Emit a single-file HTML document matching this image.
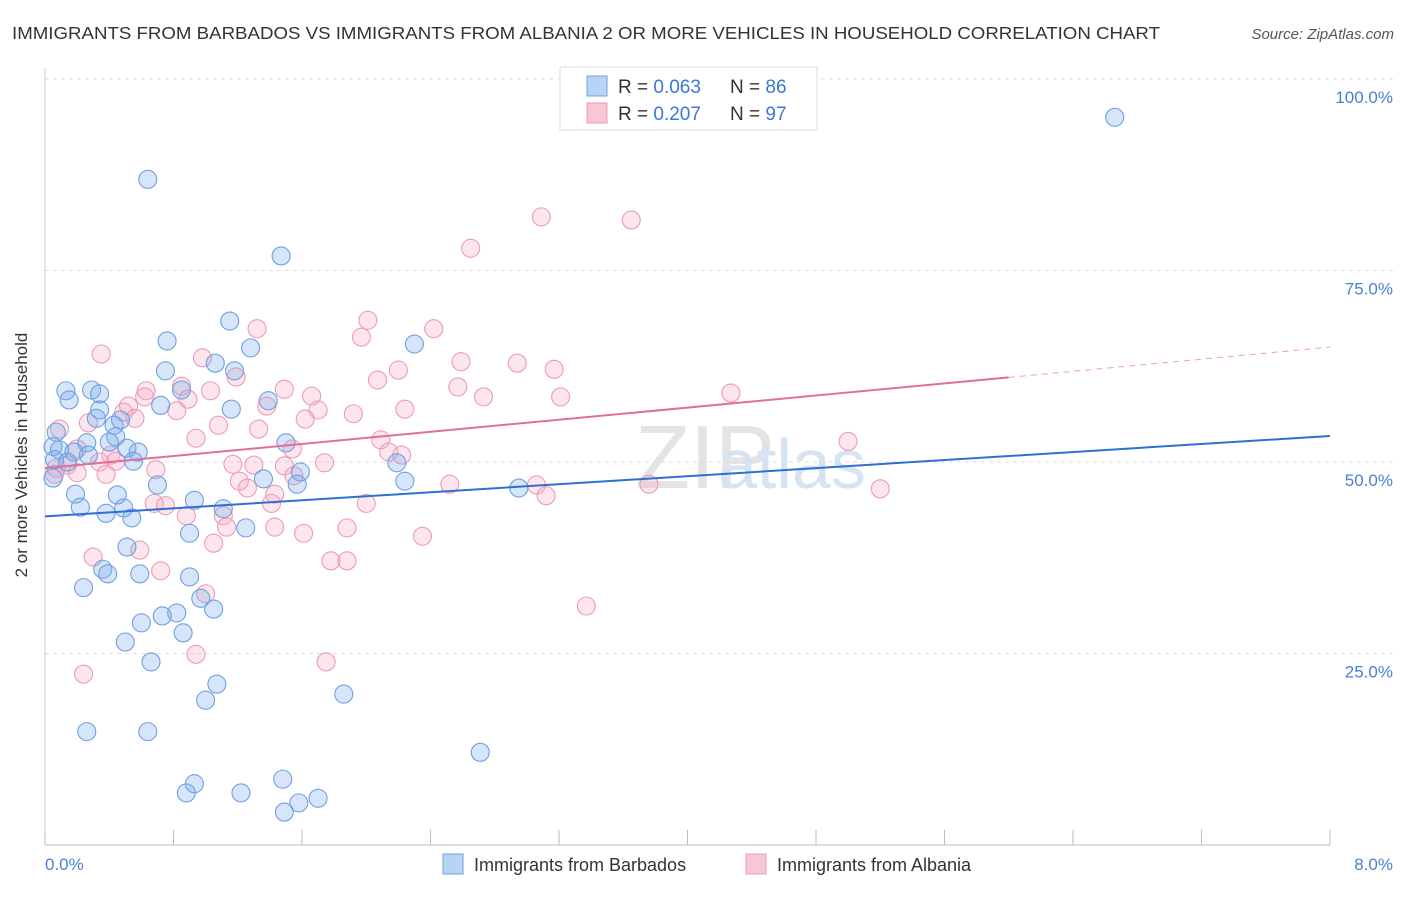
<!DOCTYPE html>
<html><head><meta charset="utf-8"><style>
body{margin:0;background:#fff;font-family:"Liberation Sans",sans-serif;}
svg text{font-family:"Liberation Sans",sans-serif;}
</style></head><body>
<svg id="c" width="1406" height="892">
<text x="12" y="39" font-size="17.5" fill="#333" textLength="1148" lengthAdjust="spacingAndGlyphs">IMMIGRANTS FROM BARBADOS VS IMMIGRANTS FROM ALBANIA 2 OR MORE VEHICLES IN HOUSEHOLD CORRELATION CHART</text>
<text x="1394" y="39" font-size="15" fill="#555" font-style="italic" text-anchor="end">Source: ZipAtlas.com</text>
<text x="635" y="488" font-size="90" fill="#e4e4e4" font-family="Liberation Serif">ZIP</text>
<text x="718" y="488" font-size="70" fill="#d5e3f3">atlas</text>
<g id="grid"></g><g id="axes"></g><g id="pts"></g><g id="lines"></g>
<text x="27" y="455" font-size="17" fill="#333" text-anchor="middle" transform="rotate(-90 27 455)">2 or more Vehicles in Household</text>
<text x="45" y="870" font-size="17" fill="#4a7fd4">0.0%</text>
<text x="1393" y="870" font-size="17" fill="#4a7fd4" text-anchor="end">8.0%</text>
<g>
<rect x="560" y="67" width="257" height="63" fill="#fff" stroke="#ddd"/>
<rect x="587" y="76" width="20" height="20" fill="#b9d3f5" stroke="#6fa0e0"/>
<rect x="587" y="103" width="20" height="20" fill="#f9c6d6" stroke="#ec9bb8"/>
<text x="618" y="93" font-size="19" fill="#333">R = <tspan fill="#3a78d8">0.063</tspan></text>
<text x="730" y="93" font-size="19" fill="#333">N = <tspan fill="#3a78d8">86</tspan></text>
<text x="618" y="120" font-size="19" fill="#333">R = <tspan fill="#3a78d8">0.207</tspan></text>
<text x="730" y="120" font-size="19" fill="#333">N = <tspan fill="#3a78d8">97</tspan></text>
</g>
<g>
<rect x="443" y="854" width="20" height="20" fill="#b9d3f5" stroke="#6fa0e0"/>
<text x="474" y="871" font-size="18" fill="#333">Immigrants from Barbados</text>
<rect x="746" y="854" width="20" height="20" fill="#f9c6d6" stroke="#ec9bb8"/>
<text x="777" y="871" font-size="18" fill="#333">Immigrants from Albania</text>
</g>
</svg>
<script>
const yTicks=[25,50,75,100];
const blueX=[6.66,0.64,1.47,1.15,0.76,1.28,2.30,1.06,0.75,1.18,0.13,0.29,0.34,0.15,0.85,1.39,0.72,0.34,1.16,0.32,0.47,0.43,0.44,0.07,0.26,0.40,0.51,0.58,1.50,0.05,0.09,0.18,0.27,0.06,0.14,0.55,2.19,1.59,0.05,1.36,2.24,1.57,0.70,2.95,0.19,0.45,0.93,0.22,0.49,1.11,0.38,0.54,1.25,0.90,0.51,0.36,0.39,0.59,0.90,0.24,0.97,1.05,0.82,0.73,0.60,0.86,0.50,0.66,1.07,1.86,1.00,0.26,0.64,2.71,0.93,1.48,0.88,1.22,1.70,1.58,1.49];
const blueY=[95.0,86.9,76.9,68.4,65.8,64.9,65.4,62.9,61.9,61.9,59.3,59.4,58.9,58.1,59.4,58.0,57.4,56.8,56.9,55.7,55.5,54.8,53.3,53.9,52.5,52.6,51.8,51.3,52.5,52.0,51.6,51.3,50.9,50.3,50.0,50.1,49.9,48.7,47.9,47.8,47.5,47.1,47.0,46.6,45.8,45.7,45.0,44.1,44.0,43.9,43.3,42.7,41.4,40.7,38.9,36.0,35.4,35.4,35.0,33.6,32.2,30.8,30.3,29.9,29.0,27.7,26.5,23.9,21.0,19.7,18.9,14.8,14.8,12.1,8.0,8.6,6.8,6.8,6.1,5.5,4.3];
const pinkX=[3.09,3.65,2.65,2.01,1.32,2.42,1.97,0.35,0.98,2.59,2.94,3.17,2.20,1.19,2.07,0.85,2.57,0.63,1.03,1.49,4.27,1.66,3.21,2.73,0.62,0.89,0.52,1.38,1.70,2.24,1.92,0.82,0.49,0.56,1.62,0.27,1.08,0.09,1.33,0.94,2.09,5.00,1.54,2.22,2.14,0.20,0.41,0.34,0.44,1.17,1.30,1.74,0.14,1.49,0.07,0.69,0.20,0.38,0.06,1.55,1.21,3.76,2.52,3.06,1.26,5.20,1.43,3.12,0.68,2.00,0.75,1.41,0.88,1.11,1.13,1.43,1.88,1.61,2.35,1.05,0.59,0.30,1.78,1.88,0.72,1.00,3.37,0.94,1.75,0.24];
const pinkY=[82.0,81.6,77.9,68.5,67.4,67.4,66.3,64.1,63.6,63.1,62.9,62.1,62.0,61.1,60.7,59.9,59.8,59.3,59.3,59.5,59.0,58.6,58.5,58.5,58.5,58.2,57.3,57.3,56.8,56.9,56.3,56.7,56.5,55.7,55.6,55.1,54.8,54.3,54.3,53.1,52.9,52.7,51.7,50.9,51.3,51.7,50.9,50.0,50.1,49.7,49.6,49.9,49.6,49.5,49.2,49.0,48.6,48.4,48.4,48.2,47.5,47.1,47.1,47.0,46.6,46.5,45.8,45.6,44.6,44.6,44.3,44.6,43.0,43.0,41.5,41.5,41.4,40.7,40.3,39.4,38.5,37.6,37.1,37.1,35.8,32.8,31.2,24.9,23.9,22.3];
const blueTrend=[42.9,53.4];
const pinkTrend=[49.2,65.0];
const pinkSolidEnd=6.0;
const X0=45,X1=1330,Y0=845,YPER=766/100;
const sx=v=>X0+(v/8)*(X1-X0);
const sy=v=>Y0-v*YPER;
const NS="http://www.w3.org/2000/svg";
function mk(tag,attrs,parent){const e=document.createElementNS(NS,tag);for(const k in attrs)e.setAttribute(k,attrs[k]);document.getElementById(parent).appendChild(e);return e;}
yTicks.forEach(t=>{
const l=mk('line',{x1:45,x2:1393,y1:sy(t),y2:sy(t),stroke:'#ddd','stroke-dasharray':'4,4'},'grid');


const tx=mk('text',{x:1393,y:sy(t)+24,'font-size':17,fill:'#4a7fd4','text-anchor':'end'},'grid');
tx.textContent=t.toFixed(1)+'%';


});
const ax=mk('line',{x1:45,x2:1330,y1:845,y2:845,stroke:'#bbb'},'axes');


const ay=mk('line',{x1:45,x2:45,y1:68,y2:845,stroke:'#ccc'},'axes');


for(let i=0;i<=10;i++){const xx=X0+i*(X1-X0)/10;
const tk=mk('line',{x1:xx,x2:xx,y1:830,y2:845,stroke:'#bbb'},'axes');

}
function dots(xs,ys,fill,stroke,name){xs.forEach((v,i)=>{
const c=mk('circle',{cx:sx(v),cy:sy(ys[i]),r:9,fill:fill,stroke:stroke,'stroke-width':1.1},'pts');

});}
dots(pinkX,pinkY,'rgba(244,170,195,0.3)','#ec9bb8','albania-point');
dots(blueX,blueY,'rgba(120,170,235,0.3)','#6fa0e0','barbados-point');
const bl=mk('line',{x1:sx(0),y1:sy(blueTrend[0]),x2:sx(8),y2:sy(blueTrend[1]),stroke:'#2f6fd0','stroke-width':2},'lines');


const pm=v=>pinkTrend[0]+(pinkTrend[1]-pinkTrend[0])*v/8;
const pl=mk('line',{x1:sx(0),y1:sy(pinkTrend[0]),x2:sx(pinkSolidEnd),y2:sy(pm(pinkSolidEnd)),stroke:'#e0709a','stroke-width':2},'lines');


const pd=mk('line',{x1:sx(pinkSolidEnd),y1:sy(pm(pinkSolidEnd)),x2:sx(8),y2:sy(pinkTrend[1]),stroke:'#e8a0b8','stroke-width':1,'stroke-dasharray':'6,5'},'lines');


</script>
</body></html>
